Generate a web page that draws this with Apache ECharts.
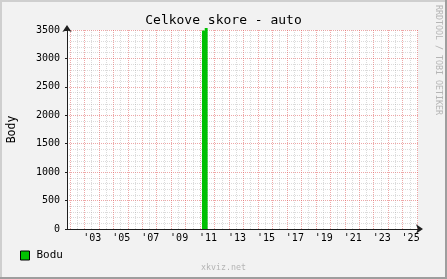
<!DOCTYPE html>
<html>
<head>
<meta charset="utf-8">
<script src="https://cdn.jsdelivr.net/npm/echarts@6/dist/echarts.min.js"></script>
<style>
html,body{margin:0;padding:0;background:#f2f2f2;}
#c{width:447px;height:279px;}
</style>
</head>
<body>
<div id="c"></div>
<script>
// ---- data ----
const titleText = 'Celkove skore - auto';
const seriesName = 'Bodu';
const yAxisName = 'Body';
const xYears = [2011.13, 2011.32, 2011.52];
const yValues = [3490, 3535, 3535];
const xRange = [2001.8, 2026.06];
const yRange = [0, 3500];
const gridYears = [2002,2003,2004,2005,2006,2007,2008,2009,2010,2011,2012,2013,2014,2015,2016,2017,2018,2019,2020,2021,2022,2023,2024,2025,2026];
const halfYears = [2002.5,2003.5,2004.5,2005.5,2006.5,2007.5,2008.5,2009.5,2010.5,2011.5,2012.5,2013.5,2014.5,2015.5,2016.5,2017.5,2018.5,2019.5,2020.5,2021.5,2022.5,2023.5,2024.5,2025.5];
const labelYears = [2003,2005,2007,2009,2011,2013,2015,2017,2019,2021,2023,2025];
const labelTexts = ["'03","'05","'07","'09","'11","'13","'15","'17","'19","'21","'23","'25"];

const FONT = 'DejaVu Sans Mono';
const majorColor = 'rgba(222,79,79,0.5)';
const minorColor = 'rgba(143,143,143,0.32)';
const labelShift = 0.55;

const chart = echarts.init(document.getElementById('c'), null, {renderer: 'canvas'});
const option = {
  animation: false,
  backgroundColor: '#f2f2f2',
  title: {
    text: titleText, left: 'center', top: 9,
    textStyle: {fontFamily: FONT, fontSize: 13, fontWeight: 'normal', color: '#000'}
  },
  legend: {
    left: 15, top: 245, itemWidth: 9, itemHeight: 9, icon: 'rect',
    data: [seriesName],
    itemStyle: {borderColor: '#000', borderWidth: 1},
    textStyle: {fontFamily: FONT, fontSize: 11, color: '#000', padding: [0,0,0,2]}
  },
  grid: {
    left: 67, right: 29, top: 30, bottom: 50, show: true,
    backgroundColor: '#ffffff', borderWidth: 0, containLabel: false,
    outerBoundsMode: 'none'
  },
  xAxis: [{
    type: 'value', min: xRange[0], max: xRange[1],
    axisLine: {show: true, lineStyle: {color: '#1f1f1f', width: 1},
      symbol: ['none', 'arrow'], symbolSize: [7, 7], symbolOffset: [0, 5]},
    axisTick: {show: false, customValues: gridYears},
    axisLabel: {
      customValues: labelYears.map(v => v + labelShift),
      formatter: (v) => labelTexts[labelYears.indexOf(Math.round(v - labelShift))] || '',
      fontFamily: FONT, fontSize: 10, color: '#000', margin: 4
    },
    splitLine: {show: true, lineStyle: {color: majorColor, type: [1, 1], width: 1}}
  }, {
    type: 'value', min: xRange[0], max: xRange[1], position: 'bottom',
    axisLine: {show: false}, axisLabel: {show: false},
    axisTick: {show: false, customValues: halfYears},
    splitLine: {show: true, lineStyle: {color: minorColor, type: [1, 1], width: 1}}
  }],
  yAxis: {
    type: 'value', min: yRange[0], max: yRange[1], interval: 500,
    name: yAxisName, nameLocation: 'middle', nameGap: 49, nameRotate: 90,
    nameTextStyle: {fontFamily: FONT, fontSize: 11.5, color: '#000'},
    axisLine: {show: true, lineStyle: {color: '#1f1f1f', width: 1},
      symbol: ['none', 'arrow'], symbolSize: [7, 7], symbolOffset: [0, 5]},
    axisTick: {show: true, length: 2, lineStyle: {color: '#1f1f1f'}},
    axisLabel: {fontFamily: FONT, fontSize: 10, color: '#000', margin: 7,
      formatter: (v) => String(v)},
    splitLine: {show: true, lineStyle: {color: majorColor, type: [1, 1], width: 1}},
    minorTick: {show: false, splitNumber: 5},
    minorSplitLine: {show: true, lineStyle: {color: minorColor, type: [1, 1], width: 1}}
  },
  series: [{
    name: seriesName, type: 'line', step: 'end', clip: false,
    xAxisIndex: 0,
    data: xYears.map((x, i) => [x, yValues[i]]),
    showSymbol: false, symbol: 'none',
    color: '#00c000',
    lineStyle: {width: 0},
    areaStyle: {color: '#00c000', opacity: 1}
  }],
  graphic: [
    {type: 'rect', shape: {x: 0, y: 0, width: 447, height: 2}, style: {fill: '#cfcfcf'}, silent: true},
    {type: 'rect', shape: {x: 0, y: 0, width: 2, height: 279}, style: {fill: '#cfcfcf'}, silent: true},
    {type: 'rect', shape: {x: 445, y: 0, width: 2, height: 279}, style: {fill: '#9e9e9e'}, silent: true},
    {type: 'rect', shape: {x: 0, y: 277, width: 447, height: 2}, style: {fill: '#9e9e9e'}, silent: true},
    {type: 'text', left: 'center', top: 264,
      style: {text: 'xkviz.net', fontFamily: FONT, fontSize: 8.3, fill: '#b5b5b5'}},
    {type: 'text', x: 438, y: 5, rotation: -Math.PI / 2,
      style: {text: 'RRDTOOL / TOBI OETIKER', fontFamily: FONT, fontSize: 8.3, fill: '#b5b5b5', align: 'left', verticalAlign: 'middle'}}
  ]
};
chart.setOption(option);
</script>
</body>
</html>
